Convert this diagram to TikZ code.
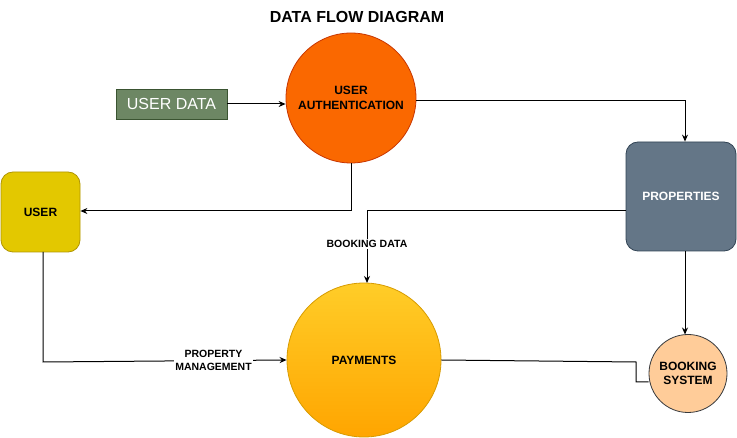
\documentclass[tikz,border=0pt]{standalone}
\usepackage{fontspec}
\setmainfont{Liberation Sans}
\usetikzlibrary{arrows.meta}
\definecolor{udfill}{HTML}{6D8764}
\definecolor{udline}{HTML}{3A5431}
\definecolor{authfill}{HTML}{FA6800}
\definecolor{authline}{HTML}{C73500}
\definecolor{propfill}{HTML}{647687}
\definecolor{propline}{HTML}{314354}
\definecolor{userfill}{HTML}{E3C800}
\definecolor{userline}{HTML}{B09500}
\definecolor{paytop}{HTML}{FFCD28}
\definecolor{paybot}{HTML}{FFA500}
\definecolor{payline}{HTML}{D79B00}
\definecolor{bookfill}{HTML}{FFCC99}
\definecolor{bookline}{HTML}{36393D}
\tikzset{
  flow/.style={draw=black, line width=1pt, -{Stealth[length=7pt,width=6pt]}},
  plainflow/.style={draw=black, line width=1pt},
  lbl/.style={font=\bfseries\fontsize{10.5}{12.5}\selectfont, fill=white, inner sep=1pt, align=center},
  proc/.style={circle, inner sep=0pt, align=center, font=\bfseries\fontsize{12}{15}\selectfont, line width=0.8pt},
  ent/.style={rounded corners=12pt, inner sep=0pt, align=center, line width=0.8pt}
}
\begin{document}
\begin{tikzpicture}[x=1pt,y=-1pt]
\useasboundingbox (0,0) rectangle (737,438);
\node[font=\bfseries\fontsize{16}{19}\selectfont] (title) at (357,17) {DATA FLOW DIAGRAM};
\node[draw=udline, fill=udfill, text=white, minimum width=111pt, minimum height=30pt, inner sep=0pt, font=\fontsize{16}{18}\selectfont, line width=0.8pt] (ud) at (171.5,104) {USER DATA};
\node[proc, draw=authline, fill=authfill, minimum size=130pt] (auth) at (351,98) {USER\\AUTHENTICATION};
\node[ent, draw=propline, fill=propfill, text=white, minimum width=110pt, minimum height=109pt, font=\bfseries\fontsize{12}{14}\selectfont] (prop) at (681,196.5) {PROPERTIES};
\node[ent, draw=userline, fill=userfill, minimum width=79pt, minimum height=80pt, font=\bfseries\fontsize{12}{14}\selectfont] (user) at (40.5,212) {USER};
\node[proc, draw=payline, top color=paytop, bottom color=paybot, minimum size=154pt] (pay) at (364,360) {PAYMENTS};
\node[proc, draw=bookline, fill=bookfill, minimum size=78pt, font=\bfseries\fontsize{12}{14.5}\selectfont] (book) at (688,373.5) {BOOKING\\SYSTEM};
\coordinate (k1) at (636,362);
\coordinate (k2) at (636,382);
\coordinate (c1) at (685,101);
% edges
\draw[flow] (ud.east) -- (auth.west |- ud.east);
\draw[flow] (auth.east |- c1) -- (c1) -- (prop.north -| c1);
\draw[flow] (auth.south) -- (351,211) -- (user.east |- 0,211);
\draw[flow] (prop.west |- 0,211) -- (367,211) -- node[lbl, pos=0.46] {BOOKING DATA} (367,283);
\draw[flow] (43,252) -- (43,362) -- node[lbl, pos=0.7] {PROPERTY\\MANAGEMENT} (pay.west);
\draw[flow] (prop.south -| c1) -- (685,334.5);
\draw[plainflow] (pay.east) -- (k1) -- (k2) -- (book.west |- k2);
\end{tikzpicture}
\end{document}
